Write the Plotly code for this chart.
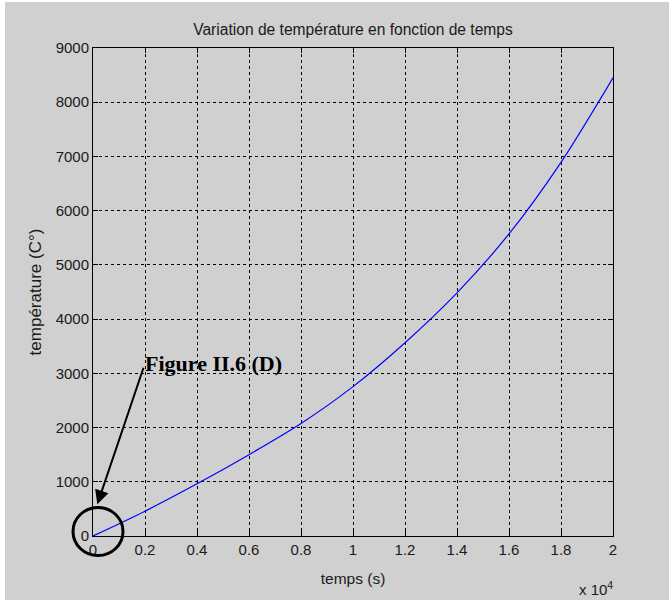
import plotly.graph_objects as go

# Temperature rise over time (time in seconds, temperature in degrees C)
temps_s = [0, 2000, 4000, 6000, 8000, 10000, 12000, 14000, 16000, 18000, 20000]
temperature = [0, 458, 962, 1500, 2075, 2755, 3565, 4485, 5570, 6890, 8450]

x_tick_vals = [0, 2000, 4000, 6000, 8000, 10000, 12000, 14000, 16000, 18000, 20000]
x_tick_text = ["0", "0.2", "0.4", "0.6", "0.8", "1", "1.2", "1.4", "1.6", "1.8", "2"]
y_tick_vals = [0, 1000, 2000, 3000, 4000, 5000, 6000, 7000, 8000, 9000]

GREY = "#d0d0d0"
FONT = "Liberation Sans, Arial, sans-serif"
TXT = "#1a1a1a"

fig = go.Figure()
fig.add_trace(go.Scatter(
    x=temps_s, y=temperature, mode="lines",
    line=dict(color="#0000ff", width=1.2, shape="spline", smoothing=0.8),
    showlegend=False, hoverinfo="skip",
))

axis_common = dict(
    showline=True, linecolor="black", linewidth=1, mirror="allticks",
    ticks="inside", ticklen=5, tickcolor="black", tickwidth=1,
    showgrid=True, gridcolor="black", gridwidth=1, griddash="3px,3px",
    zeroline=False, tickfont=dict(family=FONT, size=15, color=TXT),
)

fig.update_layout(
    width=669, height=600,
    margin=dict(l=93, r=56, t=48, b=64),
    paper_bgcolor="white", plot_bgcolor="white",
    title=dict(text="Variation de température en fonction de temps",
               x=0.5, xref="paper", y=1 - 30 / 600, yanchor="middle",
               font=dict(family=FONT, size=15.6, color=TXT)),
    xaxis=dict(range=[0, 20000], tickvals=x_tick_vals, ticktext=x_tick_text,
               title=dict(text="temps (s)", font=dict(family=FONT, size=15.5, color=TXT), standoff=16),
               **axis_common),
    yaxis=dict(range=[0, 9000], tickvals=y_tick_vals,
               title=dict(text="température (C°)", font=dict(family=FONT, size=17, color=TXT), standoff=9),
               **axis_common),
)

# grey figure background (leaves a thin white strip at the left and top edges)
fig.add_shape(type="rect", xref="paper", yref="paper", layer="below",
              x0=(5 - 93) / 520, x1=(669 - 93) / 520,
              y0=-(600 - 535.5) / 487.5, y1=(535.5 - 2) / 487.5,
              fillcolor=GREY, line=dict(width=0))

# exponent label under the x axis
fig.add_annotation(text="x 10<sup>4</sup>", xref="paper", yref="paper",
                   x=(577 - 93) / 520, y=-(588 - 535.5) / 487.5,
                   xanchor="left", yanchor="middle", showarrow=False,
                   font=dict(family=FONT, size=15, color=TXT))

# circle marking the origin (paper-anchored so it is not clipped by the axes)
fig.add_shape(type="circle", xref="paper", yref="paper",
              xsizemode="pixel", ysizemode="pixel",
              xanchor=(98 - 93) / 520, yanchor=(535.5 - 531) / 487.5,
              x0=-25, x1=25, y0=-24, y1=24,
              line=dict(color="black", width=3))

# figure reference label and arrow pointing at the origin
fig.add_annotation(text="<b>Figure II.6 (D)</b>", x=1925, y=3190, xref="x", yref="y",
                   xanchor="left", yanchor="middle", showarrow=False,
                   font=dict(family="Liberation Serif, Times New Roman, serif", size=22, color="black"))
fig.add_annotation(text="", x=165, y=585, xref="x", yref="y",
                   ax=1962, ay=3130, axref="x", ayref="y",
                   showarrow=True, arrowhead=2, arrowsize=1.4, arrowwidth=2,
                   arrowcolor="black")

fig.write_html("out.html")
